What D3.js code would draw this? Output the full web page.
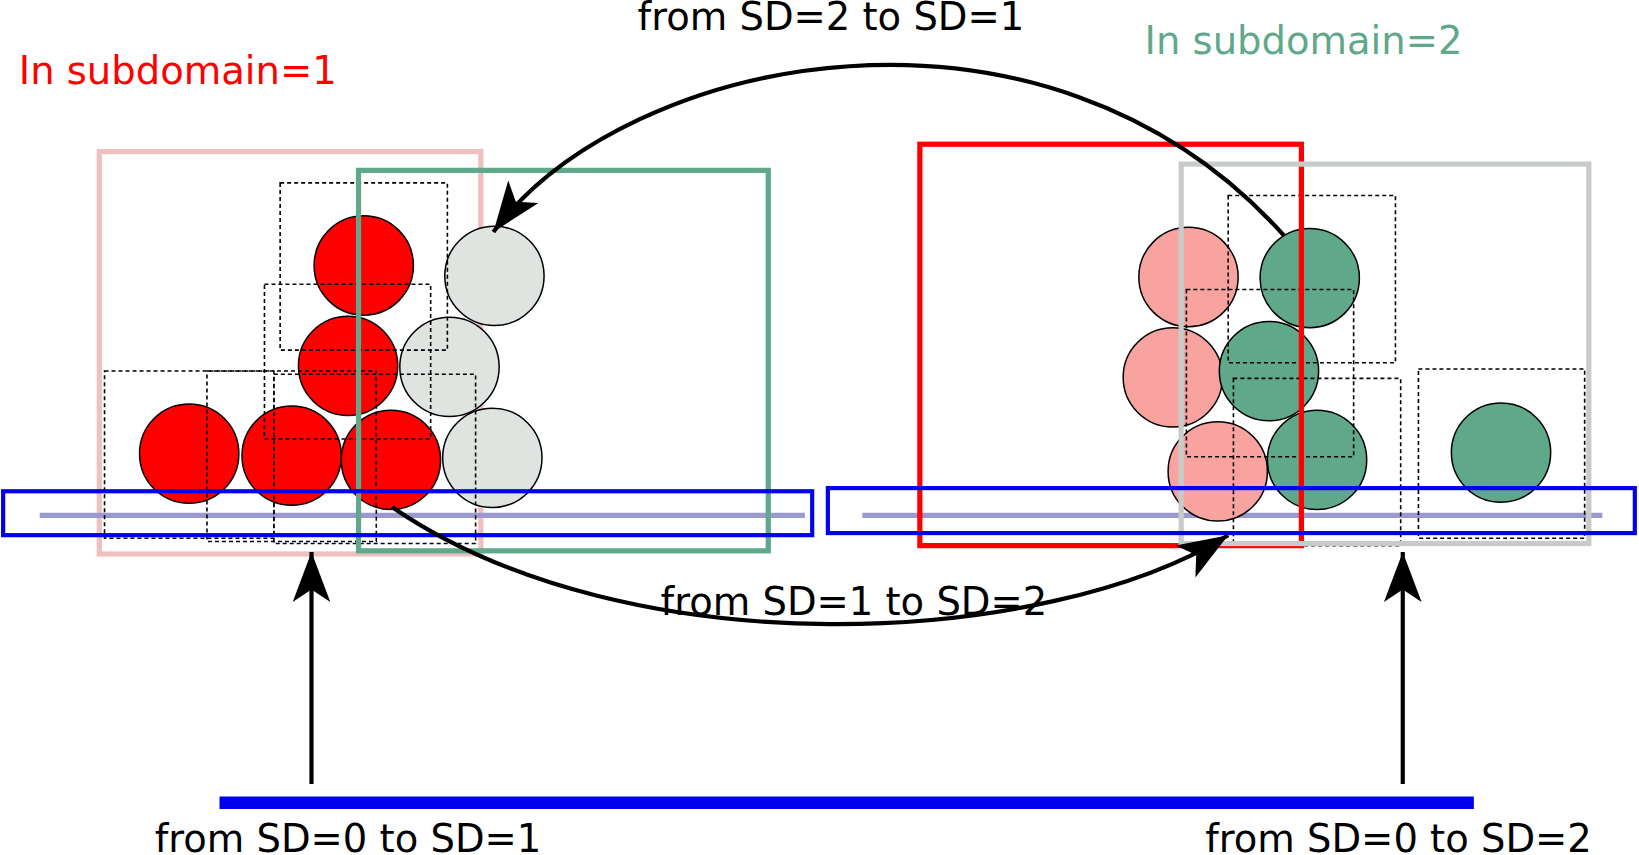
<!DOCTYPE html>
<html><head><meta charset="utf-8">
<script src="https://cdn.jsdelivr.net/npm/d3@7"></script>
<style>body{margin:0;background:#fff}svg{display:block}</style>
</head><body><div id="body"></div>
<script>
const W = 1639, H = 855;
const REF_W = 1568, REF_H = 818; // reference units

// frames: [x0, y0, x1, y1, colour key]
const frames = [
  [95, 145, 460, 530, "pinkFrame"],
  [343, 163, 735, 527, "green"],
  [880, 138, 1245, 522, "red"],
  [1130, 157, 1520, 520, "greyFrame"],
];
const dashedBoxes = [
  [268, 175, 428, 335], [253, 272, 412, 420], [100, 355, 262, 515],
  [198, 355, 360, 518], [262, 358, 455, 520],
  [1175, 187, 1335, 347], [1135, 277, 1295, 437], [1180, 362, 1340, 522], [1357, 353, 1516, 515],
];
// circles: [cx, cy, colour key]
const circles = [
  [348, 254, "red"], [333, 350, "red"], [181, 434, "red"], [279, 436, "red"], [374, 440, "red"],
  [473, 264, "grey"], [430, 351, "grey"], [471, 438, "grey"],
  [1137, 265, "pink"], [1122, 361, "pink"], [1165, 451, "pink"],
  [1253, 266, "green"], [1214, 355, "green"], [1260, 440, "green"], [1436, 433, "green"],
];
const subBoxes = [[3, 470, 777, 512], [792, 467, 1564, 510]];
const subLines = [[38, 770, 493], [825, 1533, 493]];
const labels = [
  ["from SD=2 to SD=1", 610, 29, "black"],
  ["In subdomain=1", 18, 80, "red"],
  ["In subdomain=2", 1095, 52, "green"],
  ["from SD=1 to SD=2", 632, 588, "black"],
  ["from SD=0 to SD=1", 148, 815, "black"],
  ["from SD=0 to SD=2", 1153, 815, "black"],
];
const colours = {red: "#ff0000", pink: "#f9a3a0", green: "#5fa88a", grey: "#dfe4e0",
  pinkFrame: "#f0c0c0", greyFrame: "#c8ccc8", black: "#000"};

const x = d3.scaleLinear().domain([0, REF_W]).range([0, W]);
const y = d3.scaleLinear().domain([0, REF_H]).range([0, H]);
const k = W / REF_W;

const svg = d3.select("#body").append("svg").attr("width", W).attr("height", H);

svg.append("defs").append("marker").attr("id", "ah")
  .attr("viewBox", "-50 -20 55 40").attr("refX", 0).attr("refY", 0)
  .attr("markerWidth", 55 * k).attr("markerHeight", 40 * k).attr("markerUnits", "userSpaceOnUse")
  .attr("orient", "auto")
  .append("path").attr("d", "M0,0 L-48,-18 L-36,0 L-48,18 Z").attr("fill", "#000");

const rect = (g, d) => g.append("rect").attr("x", x(d[0])).attr("y", y(d[1]))
  .attr("width", x(d[2]) - x(d[0])).attr("height", y(d[3]) - y(d[1])).attr("fill", "none");

frames.forEach(d => {
  if (d[4] === "pinkFrame") rect(svg, d).attr("stroke", colours[d[4]]).attr("stroke-width", 5 * k);
});
subLines.forEach(d => svg.append("line").attr("x1", x(d[0])).attr("x2", x(d[1]))
  .attr("y1", y(d[2])).attr("y2", y(d[2])).attr("stroke", "#9a9ad0").attr("stroke-width", 5 * k));

svg.selectAll("circle.c").data(circles).join("circle")
  .attr("cx", d => x(d[0])).attr("cy", d => y(d[1])).attr("r", 47.5 * k)
  .attr("fill", d => colours[d[2]]).attr("stroke", "#000").attr("stroke-width", 1.5);

dashedBoxes.forEach(d => rect(svg, d).attr("stroke", "#000").attr("stroke-width", 1.6)
  .attr("stroke-dasharray", "4,3"));

frames.forEach(d => {
  if (d[4] !== "pinkFrame") rect(svg, d).attr("stroke", colours[d[4]]).attr("stroke-width", 5 * k);
});
subBoxes.forEach(d => rect(svg, d).attr("stroke", "#0000ee").attr("stroke-width", 4 * k));

// bottom SD=0 line
svg.append("line").attr("x1", x(210)).attr("x2", x(1410)).attr("y1", y(768)).attr("y2", y(768))
  .attr("stroke", "#0000ee").attr("stroke-width", 12 * k);

const arrows = [
  [[298, 750], [298, 528]],
  [[1342, 750], [1342, 528]],
  [[1228, 225], [1000, -30], [600, 50], [472, 222]],
  [[375, 485], [600, 640], [1000, 620], [1175, 512]],
];
arrows.forEach(pts => {
  const p = d3.path();
  p.moveTo(x(pts[0][0]), y(pts[0][1]));
  if (pts.length === 2) p.lineTo(x(pts[1][0]), y(pts[1][1]));
  else p.bezierCurveTo(x(pts[1][0]), y(pts[1][1]), x(pts[2][0]), y(pts[2][1]), x(pts[3][0]), y(pts[3][1]));
  svg.append("path").attr("d", p.toString()).attr("fill", "none").attr("stroke", "#000")
    .attr("stroke-width", 4 * k).attr("marker-end", "url(#ah)");
});

svg.selectAll("text").data(labels).join("text")
  .attr("x", d => x(d[1])).attr("y", d => y(d[2])).text(d => d[0])
  .attr("fill", d => colours[d[3]]).attr("font-family", "DejaVu Sans").attr("font-size", 38.5);
</script></body></html>
